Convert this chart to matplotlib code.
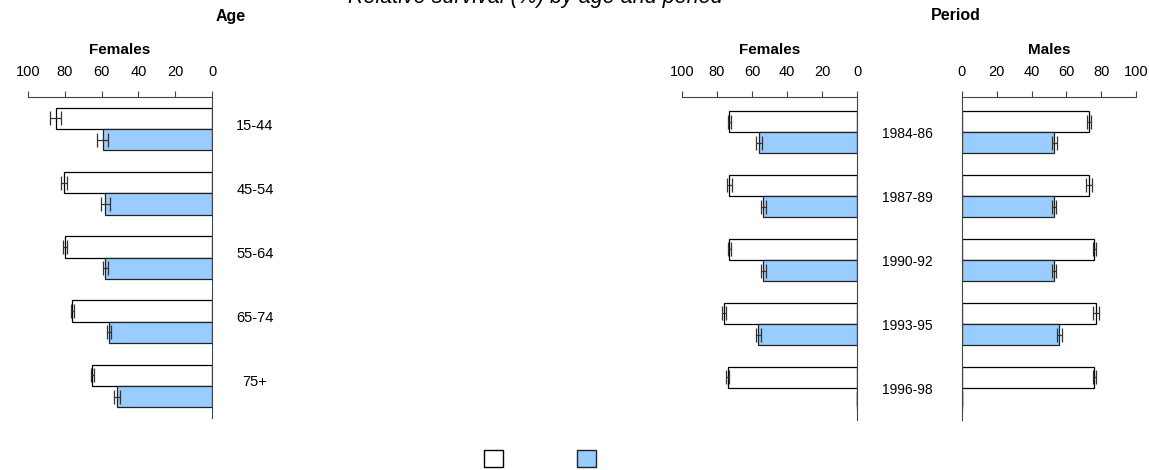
import numpy as np
import matplotlib
matplotlib.use('Agg')
import matplotlib.pyplot as plt
from matplotlib.patches import Patch
from matplotlib.transforms import ScaledTranslation

plt.rcParams['font.family'] = ['Liberation Sans', 'DejaVu Sans']

# data
ages = ['15-44', '45-54', '55-64', '65-74', '75+']
age_fem_1 = [85, 80.5, 80, 76, 65]
age_fem_1_err = [3, 1.5, 1, 0.8, 1]
age_fem_5 = [59.5, 58, 58, 56, 51.5]
age_fem_5_err = [3, 2.5, 1.5, 1, 1.5]

periods = ['1984-86', '1987-89', '1990-92', '1993-95', '1996-98']
per_fem_1 = [73, 73, 73, 76, 74]
per_fem_1_err = [1, 1.5, 1, 1, 0.8]
per_fem_5 = [56, 53.5, 53.5, 56.5, 0]
per_fem_5_err = [1.5, 1.5, 1.5, 1.5, 0]
per_mal_1 = [73, 73, 76, 77, 76]
per_mal_1_err = [1, 1.5, 1, 1.5, 1]
per_mal_5 = [53, 53, 53, 56, 0]
per_mal_5_err = [1.5, 1, 1, 1.5, 0]

blue = '#99CCFF'
W, H = 1149, 470
fig = plt.figure(figsize=(W / 100, H / 100), dpi=100)


def panel(rect, v1, e1, v5, e5, flip, title, ylim):
    ax = fig.add_axes(rect)
    y = np.arange(len(v1))
    h = 0.333
    ax.barh(y - h / 2, v1, height=h, color='white', edgecolor='black', lw=0.9)
    ax.barh(y + h / 2, v5, height=h, color=blue, edgecolor='#222222', lw=0.9)
    ax.errorbar(v1, y - h / 2, xerr=e1, fmt='none', ecolor='#333333',
                elinewidth=0.9, capsize=5, capthick=0.9)
    ax.errorbar(v5, y + h / 2, xerr=e5, fmt='none', ecolor='#333333',
                elinewidth=0.9, capsize=5, capthick=0.9)
    if flip:
        ax.set_xlim(100, 0)
    else:
        ax.set_xlim(0, 100)
    ax.set_ylim(*ylim)
    ax.xaxis.tick_top()
    ax.set_xticks(np.arange(0, 101, 20))
    ax.tick_params(axis='x', length=4, width=0.8, color='#444444', pad=9,
                   labelsize=10.5)
    for s in ['bottom', 'left', 'right', 'top']:
        ax.spines[s].set_visible(False)
    ax.spines['top'].set_visible(True)
    ax.spines['top'].set_color('#444444')
    side = 'right' if flip else 'left'
    ax.spines[side].set_visible(True)
    ax.spines[side].set_color('#444444')
    ax.set_yticks([])
    ax.annotate(title, xy=(0.5, 1), xycoords='axes fraction', xytext=(0, 34),
                textcoords='offset points', ha='center', va='center',
                fontweight='bold', fontsize=11)
    return ax


def fx(px):
    return px / W


def fy(px):
    return 1 - px / H


ax_age = panel([fx(28), fy(418), fx(184), (418 - 97) / H],
               age_fem_1, age_fem_1_err, age_fem_5, age_fem_5_err,
               True, 'Females', (4.5, -0.5))
ax_age.yaxis.tick_right()
ax_age.set_yticks(np.arange(len(ages)), labels=ages)
ax_age.tick_params(axis='y', length=0, pad=31, labelsize=10.5)
for t in ax_age.get_yticklabels():
    t.set_ha('center')
    t.set_transform(t.get_transform() + ScaledTranslation(0, 5 / 100, fig.dpi_scale_trans))

ax_pf = panel([fx(682), fy(420), fx(175), (420 - 97) / H],
              per_fem_1, per_fem_1_err, per_fem_5, per_fem_5_err,
              True, 'Females', (4.5, -0.55))
ax_pf.yaxis.tick_right()
ax_pf.set_yticks(np.arange(len(periods)), labels=periods)
ax_pf.tick_params(axis='y', length=0, pad=36, labelsize=10)
for t in ax_pf.get_yticklabels():
    t.set_ha('center')

ax_pm = panel([fx(962), fy(420), fx(174), (420 - 97) / H],
              per_mal_1, per_mal_1_err, per_mal_5, per_mal_5_err,
              False, 'Males', (4.5, -0.55))

fig.text(fx(535), fy(3), 'Relative survival (%) by age and period',
         ha='center', va='baseline', fontsize=15.5, style='italic')
fig.text(fx(231), fy(16), 'Age', ha='center', va='center',
         fontweight='bold', fontsize=11.5)
fig.text(fx(956), fy(16), 'Period', ha='center', va='center',
         fontweight='bold', fontsize=11.5)

handles = [Patch(facecolor='white', edgecolor='black', lw=1),
           Patch(facecolor=blue, edgecolor='#222222', lw=1)]
fig.legend(handles, ['', ''], loc='lower center', ncol=2, frameon=False,
           bbox_to_anchor=(fx(540), 0.0), fontsize=14, handlelength=1.0,
           handleheight=1.0, handletextpad=0, columnspacing=3.8,
           borderpad=0.05, borderaxespad=0)

fig.savefig('out.png', dpi=100)
